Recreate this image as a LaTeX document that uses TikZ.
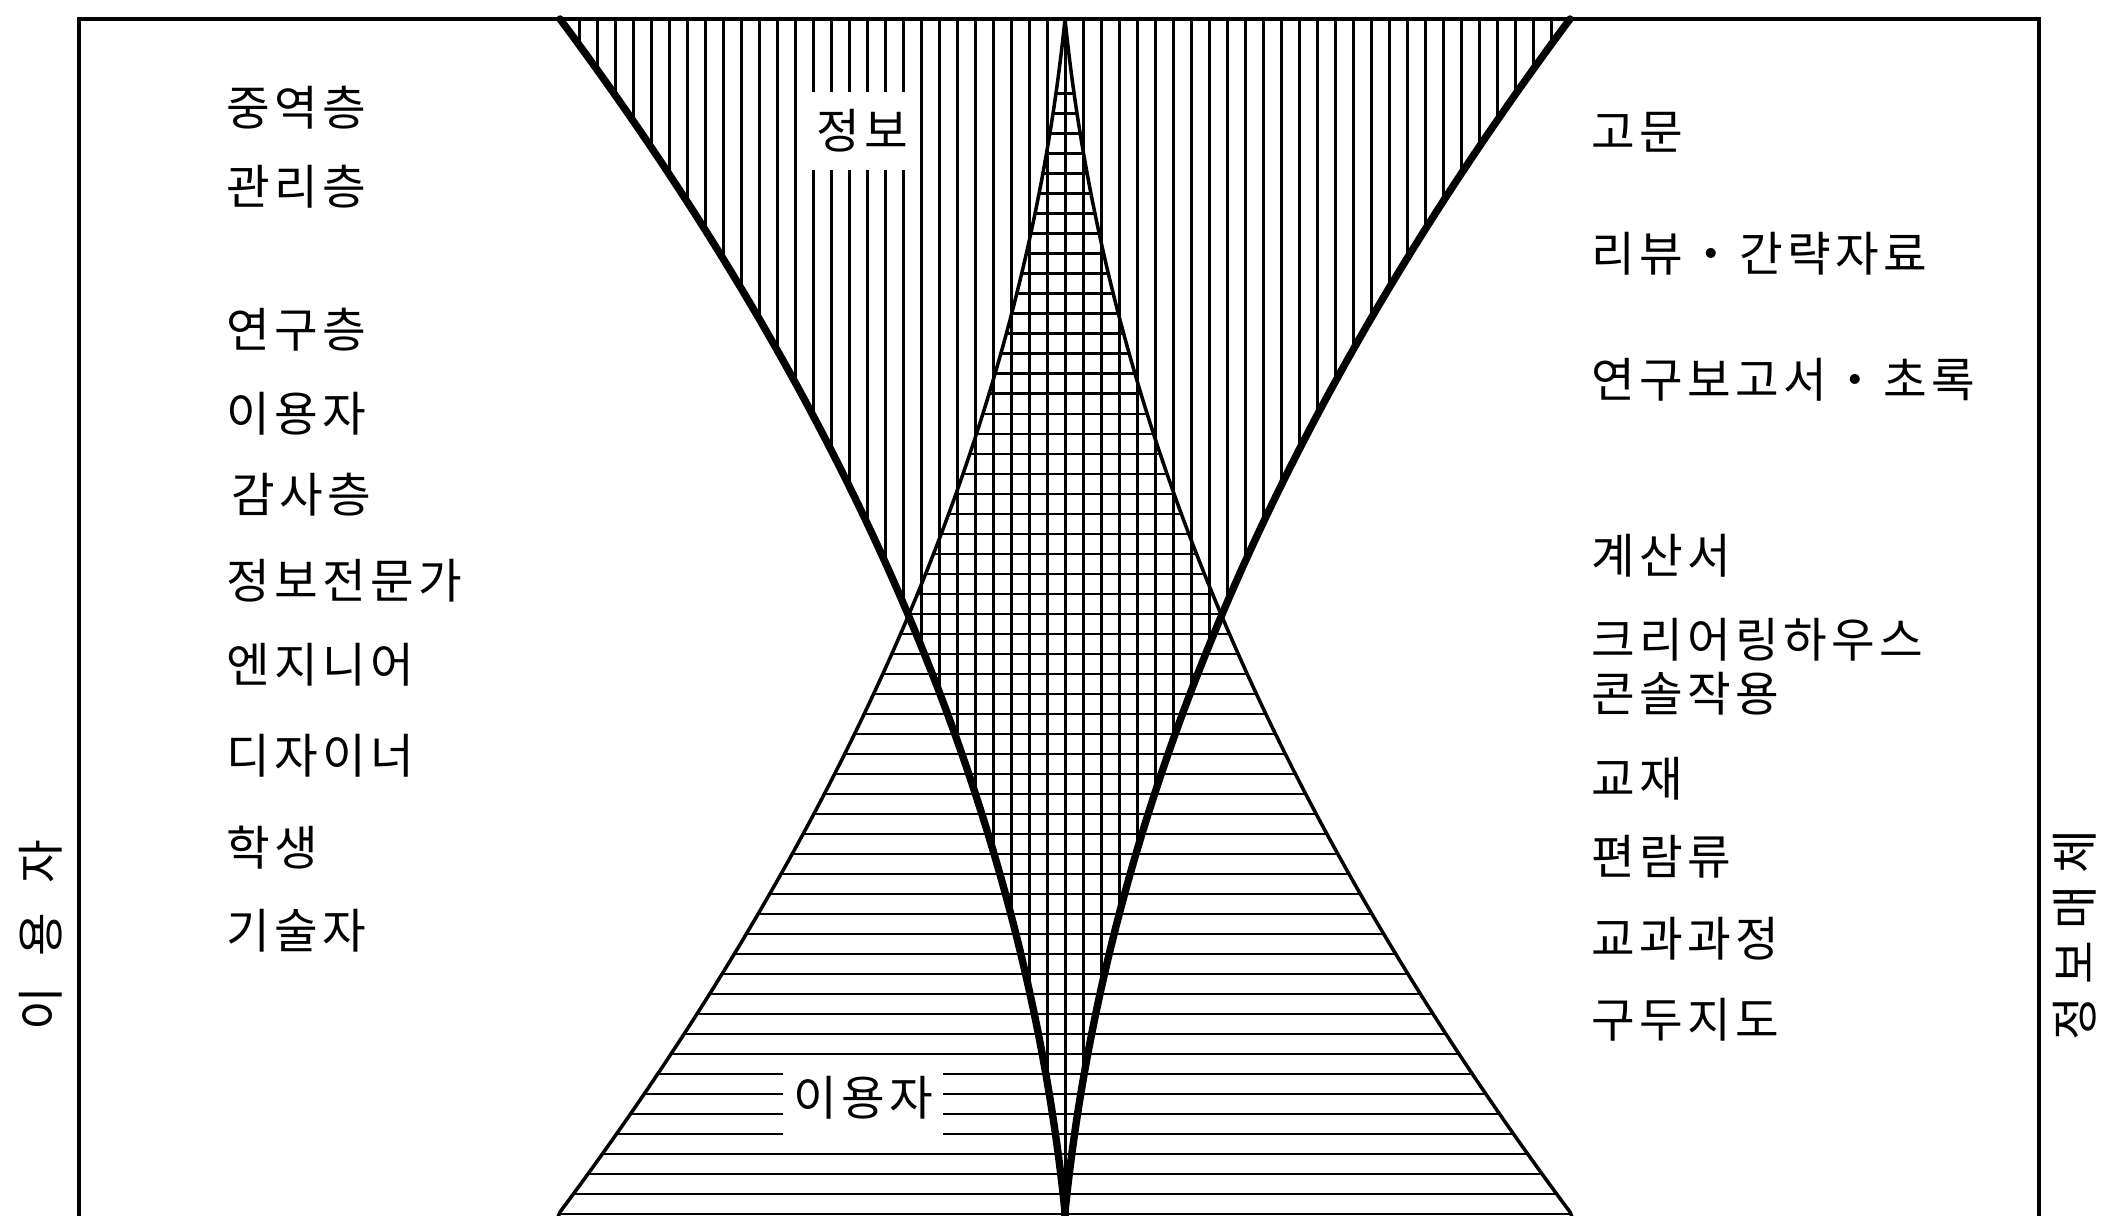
\documentclass[tikz,border=0pt]{standalone}
\usepackage{fontspec}
\newfontfamily\kr{Noto Sans CJK KR}[LetterSpace=9]
\begin{document}
\begin{tikzpicture}[x=0.01cm,y=-0.01cm,
  hatch/.style={line width=0.85pt},
  infoedge/.style={line width=2.1pt, line cap=round, line join=round},
  useredge/.style={line width=1pt, line join=round},
  frameline/.style={line width=1.1pt},
  lbl/.style={font=\kr\fontsize{13.5}{16}\selectfont, anchor=west, inner sep=0pt},
  inlbl/.style={font=\kr\fontsize{13.5}{16}\selectfont, fill=white, inner xsep=3pt, inner ysep=5pt},
  vlbl/.style={font=\kr\fontsize{13.5}{16}\selectfont, rotate=90, inner sep=0pt},
]
\useasboundingbox (0,0) rectangle (2127,1216);

\coordinate (TL) at (560,19);
\coordinate (TR) at (1570,19);
\coordinate (TC) at (1065,19);
\coordinate (BC) at (1065,1212);
\coordinate (BL) at (560,1212);
\coordinate (BR) at (1570,1212);

% information region: vertical hatching
\begin{scope}
\clip (TL) -- (TR) .. controls (1273.7,416.7) and (1105.4,814.3) .. (BC)
      .. controls (1024.6,814.3) and (856.3,416.7) .. (TL) -- cycle;
\foreach \k in {-28,...,28} \draw[hatch] ({1065+18*\k},0) -- ({1065+18*\k},1216);
\end{scope}

% user region: horizontal hatching
\begin{scope}
\clip (TC) .. controls (1105.4,416.7) and (1273.7,814.3) .. (BR) -- (1576,1240) -- (554,1240) -- (BL)
      .. controls (856.3,814.3) and (1024.6,416.7) .. (TC) -- cycle;
\foreach \k in {0,...,56} \draw[hatch] (500,{94+20*\k}) -- (1650,{94+20*\k});
\end{scope}

% labels inside the hatching
\node[inlbl] (info) at (862,131) {정보};
\node[inlbl] (user) at (863,1098) {이용자};

% boundaries
\draw[useredge] (BL) .. controls (856.3,814.3) and (1024.6,416.7) .. (TC)
      .. controls (1105.4,416.7) and (1273.7,814.3) .. (BR) -- (1574,1222);
\draw[useredge] (BL) -- (556,1222);
\draw[infoedge] (TL) .. controls (856.3,416.7) and (1024.6,814.3) .. (BC)
      .. controls (1105.4,814.3) and (1273.7,416.7) .. (TR);
\draw[infoedge] (BC) -- (1065,1222);

% frame
\draw[frameline] (79,1222) -- (79,19) -- (2039,19) -- (2039,1222);

% left list
\node[lbl] (l1) at (226,108) {중역층};
\node[lbl] (l2) at (226,187) {관리층};
\node[lbl] (l3) at (226,330) {연구층};
\node[lbl] (l4) at (226,414) {이용자};
\node[lbl] (l5) at (231,495) {감사층};
\node[lbl] (l6) at (226,581) {정보전문가};
\node[lbl] (l7) at (226,665) {엔지니어};
\node[lbl] (l8) at (226,756) {디자이너};
\node[lbl] (l9) at (226,848) {학생};
\node[lbl] (l10) at (226,931) {기술자};

% right list
\node[lbl] (r1) at (1591,132) {고문};
\node[lbl] (r2) at (1591,254) {리뷰・간략자료};
\node[lbl] (r3) at (1591,380) {연구보고서・초록};
\node[lbl] (r4) at (1591,556) {계산서};
\node[lbl] (r5) at (1591,640) {크리어링하우스};
\node[lbl] (r6) at (1591,694) {콘솔작용};
\node[lbl] (r7) at (1591,779) {교재};
\node[lbl] (r8) at (1591,857) {편람류};
\node[lbl] (r9) at (1591,939) {교과과정};
\node[lbl] (r10) at (1591,1020) {구두지도};

% side titles
\node[vlbl] (vleft) at (41,935) {이\hspace{0.3cm}용\hspace{0.3cm}자};
\node[vlbl] (vright) at (2075,935) {정\hspace{0.12cm}보\hspace{0.12cm}매\hspace{0.12cm}체};
\end{tikzpicture}
\end{document}
